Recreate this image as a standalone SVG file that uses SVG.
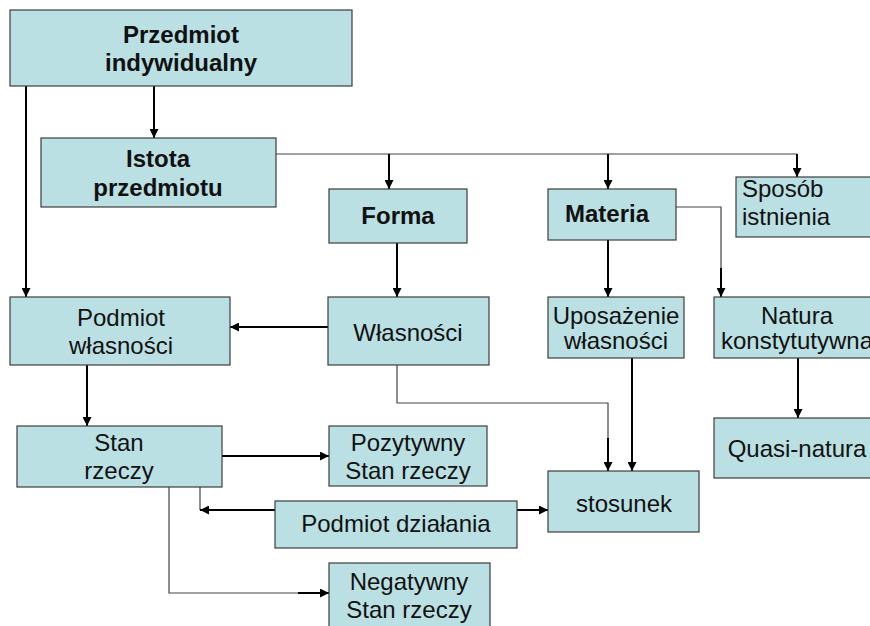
<svg xmlns="http://www.w3.org/2000/svg" width="870" height="626" viewBox="0 0 870 626">
<defs>
<marker id="ah" viewBox="0 0 10 10" refX="10" refY="5" markerWidth="5" markerHeight="4.5" orient="auto" markerUnits="strokeWidth"><path d="M0,0 L10,5 L0,10 z" fill="#000"/></marker>
<style>
rect{fill:#bae0e3;stroke:#3c3c3c;stroke-width:1.2}
text{font-family:"Liberation Sans",Arial,sans-serif;font-size:24px;fill:#111;text-anchor:middle}
.b{font-weight:bold}
.a{fill:none;stroke:#000;stroke-width:2;marker-end:url(#ah)}
.l{fill:none;stroke:#444;stroke-width:1.2}
</style>
</defs>
<rect x="0" y="0" width="870" height="626" style="fill:#fff;stroke:none"/>
<g id="connectors">
<path class="a" d="M154,86 V138"/>
<path class="a" d="M26,86 V297"/>
<path class="l" d="M276,154 H797"/>
<path class="a" d="M389,154 V189"/>
<path class="a" d="M608,154 V189"/>
<path class="a" d="M797,154 V177"/>
<path class="l" d="M676,207 H721 V270"/>
<path class="a" d="M721,268 V297"/>
<path class="a" d="M397,243 V297"/>
<path class="a" d="M608,240 V297"/>
<path class="a" d="M328,327 H230"/>
<path class="l" d="M397,365 V403 H608 V440"/>
<path class="a" d="M608,438 V471"/>
<path class="a" d="M632,358 V471"/>
<path class="a" d="M798,358 V418"/>
<path class="a" d="M87,365 V426"/>
<path class="a" d="M222,456 H329"/>
<path class="l" d="M200,487 V510"/>
<path class="a" d="M275,510 H200"/>
<path class="a" d="M517,510 H548"/>
<path class="l" d="M169,487 V593 H300"/>
<path class="a" d="M298,593 H329"/>
</g>
<g id="przedmiot"><rect x="10" y="10" width="342" height="76"/><text class="b" x="181" y="43">Przedmiot</text><text class="b" x="181" y="71">indywidualny</text></g>
<g id="istota"><rect x="41" y="138" width="235" height="69"/><text class="b" x="158" y="167">Istota</text><text class="b" x="158" y="196">przedmiotu</text></g>
<g id="forma"><rect x="329" y="189" width="138" height="54"/><text class="b" x="398" y="224">Forma</text></g>
<g id="materia"><rect x="548" y="189" width="128" height="51"/><text class="b" x="607" y="222">Materia</text></g>
<g id="sposob"><rect x="736" y="177" width="140" height="60"/><text x="742" y="197" style="text-anchor:start">Sposób</text><text x="742" y="225" style="text-anchor:start">istnienia</text></g>
<g id="podmiot-wlasnosci"><rect x="10" y="297" width="220" height="68"/><text x="121" y="326">Podmiot</text><text x="121" y="354">własności</text></g>
<g id="wlasnosci"><rect x="328" y="297" width="161" height="68"/><text x="408" y="341">Własności</text></g>
<g id="uposazenie"><rect x="548" y="297" width="136" height="61"/><text x="616" y="324">Uposażenie</text><text x="616" y="349">własności</text></g>
<g id="natura"><rect x="714" y="297" width="170" height="61"/><text x="797" y="324">Natura</text><text x="797" y="349">konstytutywna</text></g>
<g id="quasi"><rect x="714" y="418" width="170" height="60"/><text x="797" y="457">Quasi-natura</text></g>
<g id="stan"><rect x="17" y="426" width="205" height="61"/><text x="119" y="451">Stan</text><text x="119" y="479">rzeczy</text></g>
<g id="pozytywny"><rect x="329" y="426" width="158" height="60"/><text x="408" y="451">Pozytywny</text><text x="408" y="479">Stan rzeczy</text></g>
<g id="podmiot-dzialania"><rect x="275" y="501" width="242" height="47"/><text x="396" y="532">Podmiot działania</text></g>
<g id="stosunek"><rect x="548" y="471" width="151" height="61"/><text x="624" y="512">stosunek</text></g>
<g id="negatywny"><rect x="329" y="563" width="161" height="70"/><text x="409" y="590">Negatywny</text><text x="409" y="618">Stan rzeczy</text></g>
</svg>
